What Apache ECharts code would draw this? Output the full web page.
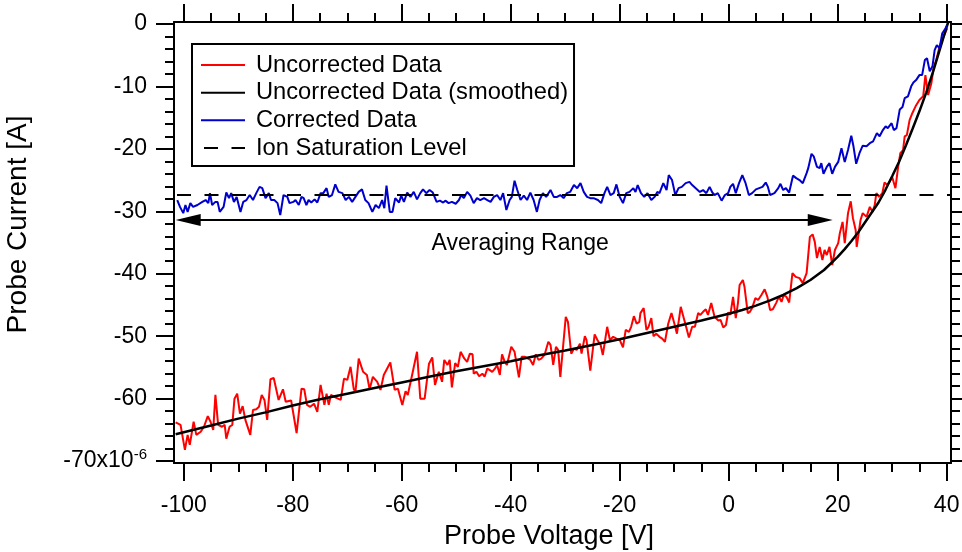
<!DOCTYPE html>
<html><head><meta charset="utf-8">
<script src="https://cdn.jsdelivr.net/npm/echarts@6/dist/echarts.min.js"></script>
<style>html,body{margin:0;padding:0;background:#fff}#c{width:962px;height:552px}</style>
</head><body><div id="c"></div>
<script>
// ---- data (Probe Voltage [V], Probe Current [uA]) ----
const uncorrected = [
[-101.5,-63.8],[-101.2,-63.9],[-100.6,-64.2],[-99.8,-68.2],[-99.3,-65.8],[-98.9,-67.4],[-98.2,-63.7],[-97.7,-65.8],[-96.9,-65.3],[-96.3,-64.5],[-95.6,-62.8],[-95.1,-63.7],[-94.6,-65.0],[-94.2,-59.4],[-93.7,-64.2],[-93.0,-64.5],[-92.5,-64.2],[-92.2,-66.4],[-91.6,-64.5],[-91.1,-64.2],[-90.7,-60.0],[-90.2,-59.2],[-89.7,-62.4],[-89.2,-61.2],[-88.7,-63.4],[-87.8,-65.8],[-87.3,-61.8],[-86.7,-61.7],[-86.2,-61.3],[-85.7,-59.4],[-85.2,-60.2],[-84.7,-63.4],[-84.1,-56.9],[-83.5,-56.7],[-82.6,-60.2],[-81.8,-58.5],[-81.3,-60.5],[-80.3,-60.3],[-79.3,-65.5],[-78.4,-58.4],[-77.9,-58.5],[-77.4,-61.0],[-76.8,-61.3],[-76.1,-60.8],[-75.5,-62.1],[-74.9,-57.8],[-74.2,-61.0],[-73.8,-59.2],[-73.4,-61.0],[-73.0,-59.4],[-72.2,-59.8],[-71.2,-60.2],[-70.6,-56.8],[-70.0,-57.0],[-69.4,-54.9],[-68.8,-58.5],[-68.5,-58.9],[-67.9,-53.6],[-67.1,-55.7],[-66.4,-56.2],[-65.9,-58.5],[-65.3,-56.5],[-64.5,-57.3],[-63.9,-58.6],[-63.3,-56.2],[-62.1,-54.2],[-61.3,-58.6],[-60.7,-58.4],[-59.9,-61.0],[-59.3,-58.8],[-58.9,-59.4],[-58.1,-56.2],[-57.8,-56.0],[-57.2,-52.5],[-56.6,-60.0],[-55.8,-60.0],[-55.0,-54.4],[-54.4,-53.4],[-53.9,-57.8],[-53.2,-55.7],[-52.6,-57.3],[-52.2,-53.8],[-51.6,-54.6],[-51.2,-53.8],[-50.8,-58.2],[-50.2,-54.3],[-49.7,-54.9],[-49.2,-52.5],[-48.5,-53.6],[-48.0,-54.1],[-47.5,-52.8],[-47.0,-52.9],
[-46.8,-56.0],[-46.3,-55.7],[-45.8,-56.4],[-45.2,-56.0],[-44.8,-56.5],[-44.3,-55.2],[-43.9,-55.4],[-43.4,-55.7],[-42.9,-55.2],[-42.5,-54.6],[-42.0,-56.2],[-41.6,-52.9],[-41.1,-54.1],[-40.7,-54.6],[-39.9,-51.7],[-39.3,-52.5],[-38.5,-56.6],[-38.0,-53.3],[-37.4,-53.3],[-36.8,-53.6],[-36.4,-53.8],[-35.9,-54.6],[-35.4,-52.9],[-34.9,-53.8],[-34.4,-53.6],[-33.8,-53.0],[-33.1,-50.9],[-32.7,-51.4],[-32.2,-54.6],[-31.7,-51.7],[-31.3,-52.2],[-30.9,-56.5],[-29.9,-46.9],[-29.5,-47.7],[-28.9,-52.8],[-28.4,-52.0],[-27.9,-52.2],[-27.3,-51.2],[-27.0,-52.8],[-26.4,-50.0],[-26.1,-50.6],[-25.4,-55.5],[-24.6,-49.7],[-24.1,-50.6],[-23.5,-51.4],[-23.1,-53.0],[-22.3,-48.5],[-21.8,-50.6],[-21.2,-50.1],[-20.6,-50.4],[-20.0,-50.6],[-19.4,-51.8],[-18.9,-49.0],[-18.3,-49.3],[-17.9,-48.5],[-17.4,-46.8],[-16.9,-48.0],[-16.4,-47.7],[-16.2,-46.3],[-15.6,-45.5],[-15.1,-49.0],[-14.7,-48.5],[-14.2,-47.1],[-13.8,-50.0],[-13.3,-49.6],[-12.7,-50.1],[-12.2,-50.4],[-11.7,-50.9],[-11.1,-48.0],[-10.5,-46.3],[-9.9,-48.2],[-9.5,-49.6],[-8.8,-45.3],[-8.4,-46.6],[-7.9,-48.2],[-7.3,-50.2],[-6.7,-48.5],[-6.2,-48.5],[-5.6,-46.3],[-5.2,-46.6],[-4.7,-46.1],[-4.2,-45.7],[-3.8,-46.6],[-3.2,-44.7],[-2.6,-46.9],[-1.9,-47.5],[-1.5,-47.4],[-1.0,-48.6],[-0.5,-48.2],[-0.1,-46.2],[0.3,-46.6],[0.8,-43.7],[1.3,-47.1],[1.7,-44.7],
[2.0,-41.8],[2.6,-41.0],[2.9,-42.1],[3.5,-46.3],[3.9,-46.1],[4.3,-45.5],[4.9,-43.9],[5.4,-44.2],[6.0,-43.4],[6.6,-42.5],[7.1,-43.7],[7.6,-45.8],[8.1,-45.7],[8.7,-44.7],[9.2,-43.7],[9.7,-44.5],[10.1,-43.4],[10.6,-43.7],[11.1,-44.6],[11.7,-39.9],[12.3,-40.5],[13.0,-40.7],[13.6,-41.5],[14.3,-39.9],[14.9,-34.1],[15.4,-33.7],[15.8,-34.9],[16.2,-37.5],[16.7,-35.7],[17.2,-37.8],[17.6,-36.2],[18.0,-37.0],[18.5,-35.7],[19.0,-38.6],[19.5,-36.2],[20.1,-35.1],[20.4,-33.5],[20.9,-31.7],[21.3,-35.1],[21.9,-30.3],[22.4,-28.4],[22.8,-31.1],[23.3,-33.0],[23.5,-35.7],[24.2,-31.4],[24.6,-30.3],[25.3,-30.9],[25.9,-29.3],[26.4,-30.1],[26.8,-29.0],[27.1,-27.1],[27.6,-27.7],[28.2,-27.1],[28.6,-25.4],[29.1,-25.8],[29.5,-25.3],[30.0,-24.5],[30.6,-26.3],[31.1,-22.9],[31.5,-20.7],[32.0,-20.2],[32.3,-18.0],[32.7,-17.8],[33.2,-15.4],[33.7,-14.3],[34.3,-13.2],[35.0,-12.2],[35.7,-11.6],[36.1,-8.2],[36.6,-11.4],[37.2,-9.5],[37.6,-7.1],[38.1,-5.8],[38.7,-3.6],[39.3,-2.3],[40.1,-0.7]
];
const smoothed = [
[-101.5,-65.7],[-95,-64.3],[-90,-63.2],[-85,-62.2],[-80,-61.1],[-75,-60.1],[-70,-59.2],[-65,-58.3],[-60,-57.4],[-55,-56.5],[-50,-55.6],[-45,-54.8],[-40,-54.0],[-35,-53.1],[-30,-52.3],[-25,-51.4],[-20,-50.5],[-15,-49.5],[-10,-48.5],[-5,-47.5],[0,-46.4],[2.5,-45.8],[5,-45.1],[7.5,-44.3],[10,-43.4],[12.5,-42.3],[15,-41.0],[17.5,-39.4],[20,-37.3],[21.25,-36.1],[22.5,-34.8],[23.75,-33.4],[25,-31.8],[26.25,-30.2],[27.5,-28.6],[28.75,-26.6],[30,-24.4],[31.25,-22.1],[32.5,-19.5],[33.75,-16.8],[35,-14.0],[36.25,-11.0],[37.5,-7.7],[38.75,-4.1],[40,-0.5],[40.3,0.3]
];
const corrected = [
[-101.2,-28.2],[-100.7,-29.3],[-100.1,-30.3],[-99.7,-29.0],[-99.3,-30.1],[-98.8,-28.7],[-98.3,-29.3],[-97.5,-29.0],[-96.6,-28.5],[-96.0,-28.2],[-95.5,-28.7],[-95.2,-27.1],[-94.8,-29.0],[-94.2,-28.5],[-93.8,-28.5],[-93.4,-30.1],[-92.7,-29.3],[-92.2,-27.0],[-91.7,-27.9],[-91.3,-27.1],[-90.8,-28.5],[-90.3,-27.7],[-89.6,-30.1],[-89.1,-28.5],[-88.5,-28.2],[-87.9,-27.4],[-87.3,-28.2],[-86.7,-27.1],[-86.1,-26.1],[-85.6,-26.3],[-85.0,-27.9],[-84.4,-27.1],[-84.0,-28.2],[-83.4,-28.2],[-82.8,-28.7],[-82.3,-30.6],[-81.7,-27.4],[-81.0,-27.7],[-80.6,-28.7],[-79.9,-28.5],[-79.5,-28.2],[-78.9,-29.0],[-78.4,-27.7],[-78.0,-27.9],[-77.5,-29.0],[-77.1,-28.2],[-76.6,-28.6],[-76.0,-28.1],[-75.5,-28.6],[-74.9,-27.1],[-74.4,-27.1],[-73.8,-26.3],[-73.4,-27.7],[-72.8,-27.4],[-72.2,-25.7],[-71.6,-26.9],[-70.9,-27.1],[-70.3,-28.2],[-69.7,-27.7],[-69.1,-28.5],[-68.5,-27.7],[-67.9,-26.9],[-67.3,-26.5],[-66.7,-28.2],[-66.1,-28.7],[-65.4,-30.1],[-64.8,-29.0],[-64.2,-29.5],[-63.6,-28.2],[-63.2,-29.5],[-62.8,-25.9],[-62.2,-30.1],[-61.7,-30.1],[-61.2,-27.9],[-60.5,-28.6],[-60.1,-27.5],[-59.6,-28.5],[-59.0,-27.0],[-58.4,-27.7],[-57.8,-26.9],[-57.2,-28.1],[-56.6,-27.1],[-56.1,-26.5],[-55.5,-27.1],[-54.9,-26.6],[-54.3,-27.0],[-53.6,-28.5],[-53.0,-28.3],[-52.4,-28.6],[-52.0,-28.3],[-51.4,-28.7],[-50.8,-28.5],[-50.1,-28.8],[-49.5,-28.2],[-49.1,-27.4],[-48.6,-27.9],[-48.0,-26.9],[-47.4,-27.5],[-46.8,-28.7],[-46.2,-27.9],[-45.6,-28.2],[-44.9,-27.9],[-44.3,-28.2],[-43.7,-28.5],[-43.1,-27.7],[-42.5,-27.4],[-41.9,-28.2],[-41.4,-27.1],[-40.8,-29.8],[-40.2,-28.2],[-39.8,-27.7],[-39.3,-25.1],[-38.8,-26.6],[-38.2,-28.2],[-37.6,-27.5],[-37.0,-28.2],[-36.4,-27.0],[-35.8,-28.2],[-35.2,-30.1],[-34.7,-28.2],[-34.1,-27.1],[-33.5,-27.7],[-32.7,-26.6],[-32.1,-27.7],[-31.5,-27.7],[-30.9,-27.4],[-30.3,-27.9],[-29.7,-27.1],[-29.1,-26.9],[-28.4,-25.8],[-27.8,-26.3],[-27.2,-25.5],[-26.6,-26.9],[-26.0,-27.7],[-25.4,-27.9],[-24.8,-27.9],[-24.0,-28.2],[-23.4,-28.7],[-22.8,-27.1],[-22.3,-26.1],[-21.7,-27.4],[-21.1,-27.1],[-20.6,-25.7],[-20.0,-27.7],[-19.4,-28.7],[-18.8,-27.1],[-18.2,-26.9],[-17.5,-26.3],[-17.1,-26.9],[-16.7,-25.8],[-16.1,-27.1],[-15.5,-27.7],[-14.9,-27.1],[-14.2,-28.2],[-13.6,-27.7],[-13.1,-26.9],[-12.7,-27.1],[-12.0,-25.5],[-11.4,-26.6],[-11.0,-24.2],[-10.4,-25.0],[-9.8,-27.4],[-9.2,-26.3],[-8.6,-26.1],[-7.9,-25.5],[-7.2,-25.3],[-6.7,-25.8],
[-5.3,-26.9],[-4.7,-26.6],[-4.1,-27.1],[-3.5,-26.1],[-3.0,-27.0],[-2.6,-27.4],[-2.0,-27.1],[-1.3,-28.3],[-0.7,-27.4],[-0.1,-27.1],[0.3,-26.1],[0.8,-25.6],[1.3,-27.1],[1.9,-25.5],[2.5,-24.2],[3.1,-25.5],[3.7,-27.4],[4.3,-27.1],[5.0,-26.5],[5.6,-26.3],[6.2,-26.1],[6.8,-25.4],[7.2,-26.1],[7.6,-27.4],[8.4,-27.1],[9.1,-26.3],[9.5,-25.6],[10.0,-26.6],[10.5,-26.3],[11.1,-27.0],[11.8,-24.3],[12.4,-24.7],[13.0,-25.0],[13.6,-25.5],[14.3,-23.9],[14.6,-23.1],
[15.2,-20.8],[15.6,-21.2],[16.2,-22.9],[16.7,-23.1],[17.0,-22.3],[17.4,-24.0],[18.0,-22.9],[18.5,-22.3],[19.0,-24.0],[19.5,-22.9],[20.1,-22.1],[20.7,-19.9],[21.3,-22.1],[21.9,-20.2],[22.5,-17.9],[22.9,-19.6],[23.4,-22.4],[24.0,-20.7],[24.6,-19.5],[25.3,-19.6],[25.9,-19.1],[26.5,-18.8],[26.8,-19.1],[27.2,-17.5],[27.7,-18.0],[28.3,-17.0],[28.8,-16.4],[29.2,-16.7],[29.9,-15.9],[30.3,-17.0],[30.8,-16.7],[31.4,-13.7],[31.9,-13.3],[32.3,-11.9],[32.9,-11.6],[33.5,-10.0],[33.9,-9.4],[34.4,-9.0],[35.0,-8.2],[35.5,-8.2],[36.0,-5.8],[36.4,-5.5],[36.9,-7.6],[37.4,-6.8],[37.8,-4.2],[38.2,-3.4],[38.7,-3.9],[39.2,-1.5],[39.6,-1.0],[40.1,-0.2]
];
const ionSaturationLevel = -27.4;
const averagingRange = [-99.2, 16.8];   // arrow shaft ends (heads extend to about -101.5 and 19)
const averagingLevel = -31.4;
const xRange = [-101.8, 40.8];
const yRange = [-70.3, 0.3];
const xMajorTicks = [-100,-80,-60,-40,-20,0,20,40];
const xMinorTicks = [-95,-90,-85,-75,-70,-65,-55,-50,-45,-35,-30,-25,-15,-10,-5,5,10,15,25,30,35];
const yMajorTicks = [0,-10,-20,-30,-40,-50,-60,-70];
const yMinorTicks = [-2,-4,-6,-8,-12,-14,-16,-18,-22,-24,-26,-28,-32,-34,-36,-38,-42,-44,-46,-48,-52,-54,-56,-58,-62,-64,-66,-68];
const seriesNames = ['Uncorrected Data','Uncorrected Data (smoothed)','Corrected Data','Ion Saturation Level'];

const FONT = 'Liberation Sans, Arial, Helvetica, sans-serif';
const black = '#000';
function xAxisCfg(position, ticks, len, withLine, withLabels, extra) {
  return Object.assign({
    type:'value', position, min:xRange[0], max:xRange[1],
    splitLine:{show:false},
    axisLine:{show:withLine, onZero:false, lineStyle:{color:black, width:2}},
    axisTick:{show:true, customValues:ticks, length:len, inside:false, lineStyle:{color:black, width:2}},
    axisLabel:{show:withLabels, customValues:ticks, margin:31, color:black, fontFamily:FONT, fontSize:23}
  }, extra || {});
}
function yAxisCfg(position, ticks, len, withLine, withLabels, extra) {
  return Object.assign({
    type:'value', position, min:yRange[0], max:yRange[1],
    splitLine:{show:false},
    axisLine:{show:withLine, onZero:false, lineStyle:{color:black, width:2}},
    axisTick:{show:true, customValues:ticks, length:len, inside:false, lineStyle:{color:black, width:2}},
    axisLabel:{show:withLabels, customValues:ticks, margin:27, color:black, fontFamily:FONT, fontSize:23,
      formatter: v => v === yMajorTicks[yMajorTicks.length-1] ? '{b|' + v + 'x10}{s|-6}' : String(v),
      rich:{ b:{fontFamily:FONT, fontSize:23, color:black, lineHeight:28},
             s:{fontFamily:FONT, fontSize:15, color:black, lineHeight:14, verticalAlign:'top'} }
    }
  }, extra || {});
}

const chart = echarts.init(document.getElementById('c'), null, {renderer:'canvas'});
chart.setOption({
  animation:false,
  backgroundColor:'#fff',
  grid:{left:174, right:11, top:22, bottom:89, containLabel:false, outerBoundsMode:'none'},
  xAxis:[
    xAxisCfg('bottom', xMajorTicks, 18, true, true, {
      name:'Probe Voltage [V]', nameLocation:'middle', nameGap:60,
      nameTextStyle:{fontFamily:FONT, fontSize:27, color:black, padding:[0,27,0,0]}}),
    xAxisCfg('bottom', xMinorTicks, 9, false, false),
    xAxisCfg('top', xMajorTicks, 18, true, false),
    xAxisCfg('top', xMinorTicks, 9, false, false)
  ],
  yAxis:[
    yAxisCfg('left', yMajorTicks, 18, true, true, {
      name:'Probe Current [A]', nameLocation:'middle', nameGap:142, nameRotate:90,
      nameTextStyle:{fontFamily:FONT, fontSize:28, color:black, padding:[0,0,0,36]}}),
    yAxisCfg('left', yMinorTicks, 9, false, false),
    yAxisCfg('right', yMajorTicks, 18, true, false),
    yAxisCfg('right', yMinorTicks, 9, false, false)
  ],
  legend:{
    orient:'vertical', left:192, top:44, padding:[9,6,6,8], itemGap:3.67,
    itemWidth:44, itemHeight:14, borderColor:black, borderWidth:2, backgroundColor:'#fff',
    itemStyle:{color:'rgba(0,0,0,0)', borderColor:'rgba(0,0,0,0)', borderWidth:0},
    textStyle:{fontFamily:FONT, fontSize:23.7, color:black, lineHeight:23, padding:[0,0,0,6]},
    data:seriesNames, selectedMode:false
  },
  series:[
    {name:seriesNames[0], type:'line', data:uncorrected, symbol:'none', clip:true,
     lineStyle:{color:'#ff0000', width:2}, itemStyle:{color:'#ff0000'}, z:2},
    {name:seriesNames[1], type:'line', data:smoothed, symbol:'none', smooth:false, clip:true,
     lineStyle:{color:black, width:2.5}, itemStyle:{color:black}, z:3},
    {name:seriesNames[2], type:'line', data:corrected, symbol:'none', clip:true,
     lineStyle:{color:'#0000cc', width:2}, itemStyle:{color:'#0000cc'}, z:4},
    {name:seriesNames[3], type:'line', data:[[xRange[0], ionSaturationLevel],[xRange[1], ionSaturationLevel]],
     symbol:'none', clip:true, lineStyle:{color:black, width:2, type:[14,13.5], dashOffset:-3}, itemStyle:{color:black}, z:5},
    {name:'Averaging Range', type:'line', data:[], symbol:'none', z:6,
     markLine:{
       silent:true, animation:false,
       symbol:['triangle','triangle'], symbolSize:[12,25],
       lineStyle:{color:black, width:2, type:'solid'},
       label:{show:true, position:'insideMiddleBottom', formatter:'Averaging Range', distance:8,
              padding:[4,0,0,32],
              fontFamily:FONT, fontSize:23, color:black},
       emphasis:{disabled:true},
       data:[[{coord:[averagingRange[0], averagingLevel]}, {coord:[averagingRange[1], averagingLevel]}]]
     }}
  ]
});
</script></body></html>
